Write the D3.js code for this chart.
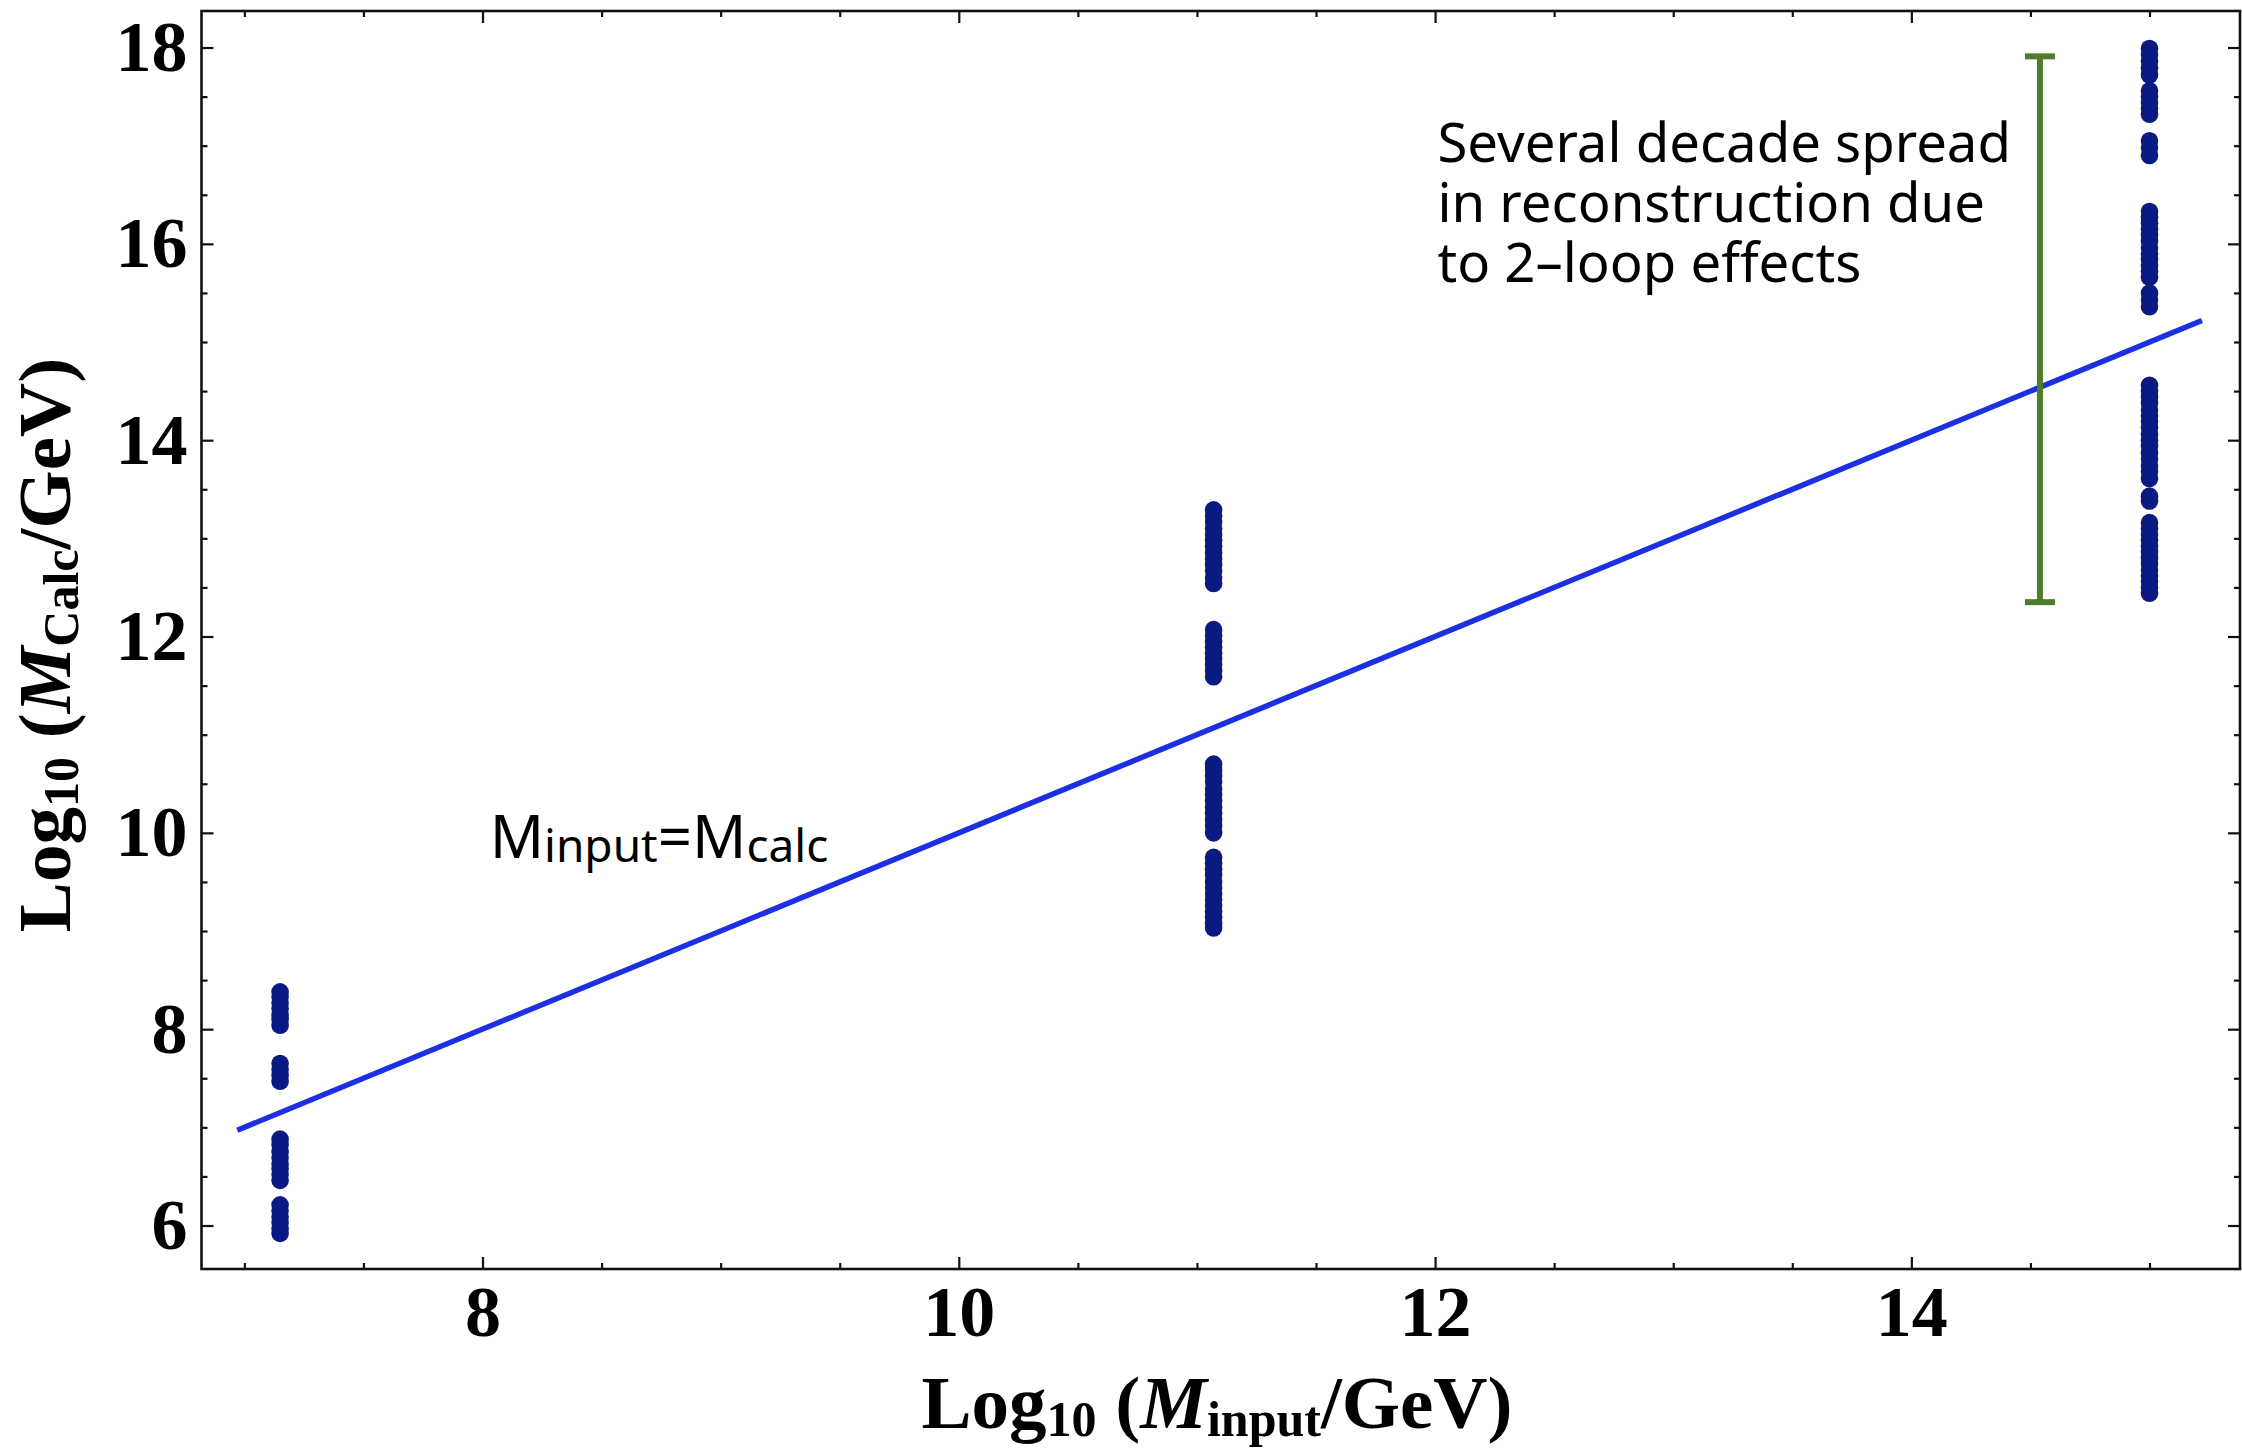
<!DOCTYPE html>
<html>
<head>
<meta charset="utf-8">
<script src="https://cdn.jsdelivr.net/npm/d3@7"></script>
<style>
  body { margin: 0; background: #fff; }
  svg { display: block; }
</style>
</head>
<body>
<div id="chart"></div>
<script>
// ---- data ----
var clusterX = [7.15, 11.07, 15.0];

var lowY = [8.38, 8.33, 8.27, 8.21, 8.15, 8.10, 8.04,
            7.65, 7.59, 7.53, 7.47,
            6.88, 6.82, 6.75, 6.69, 6.63, 6.58, 6.52, 6.46,
            6.21, 6.15, 6.09, 6.03, 5.97, 5.92];

var midY = [13.29, 13.23, 13.17, 13.10, 13.04, 12.98, 12.92, 12.85, 12.79, 12.73, 12.67, 12.60, 12.54,
            12.07, 12.01, 11.95, 11.89, 11.83, 11.77, 11.71, 11.65, 11.59,
            10.70, 10.64, 10.58, 10.52, 10.45, 10.39, 10.33, 10.26, 10.20, 10.13, 10.07, 10.00,
            9.75, 9.69, 9.63, 9.57, 9.50, 9.44, 9.38, 9.32, 9.26, 9.20, 9.14, 9.08, 9.03];

var highY = [17.99, 17.93, 17.86, 17.79, 17.72,
             17.56, 17.50, 17.44, 17.38, 17.32,
             17.05, 16.98, 16.90,
             16.33, 16.27, 16.21, 16.15, 16.09, 16.03, 15.96, 15.90, 15.84, 15.78, 15.72, 15.66,
             15.50, 15.43, 15.36,
             14.56, 14.50, 14.44, 14.38, 14.31, 14.25, 14.19, 14.13, 14.06, 14.00, 13.94, 13.87, 13.81, 13.74, 13.68, 13.61,
             13.43, 13.38,
             13.16, 13.10, 13.04, 12.98, 12.92, 12.86, 12.80, 12.74, 12.68, 12.62, 12.56, 12.50, 12.44];

var diagX = [6.97, 15.22];          // M_input = M_calc line
var xTicks = [8, 10, 12, 14];
var yTicks = [6, 8, 10, 12, 14, 16, 18];
var spreadX = 14.54;                 // green bar
var spreadY = [12.35, 17.91];
var noteLines = ["Several decade spread", "in reconstruction due", "to 2\u2013loop effects"];

// ---------------------------------------------------------
var W = 2242, H = 1449;
var pLeft = 201.5, pRight = 2240, pTop = 11, pBottom = 1269;

var svg = d3.select("#chart").append("svg")
    .attr("width", W)
    .attr("height", H);

var x = d3.scaleLinear().domain([6.82, 15.38]).range([pLeft, pRight]);
var y = d3.scaleLinear().domain([5.557, 18.372]).range([pBottom, pTop]);

var minorX = d3.range(7, 15.5, 0.5).filter(function(d) { return xTicks.indexOf(d) < 0; });
var minorY = d3.range(6, 18.5, 0.5).filter(function(d) { return yTicks.indexOf(d) < 0; });

var serif = "'Liberation Serif', 'Times New Roman', serif";

// axes (ticks point inward, like Mathematica frames)
function frameAxis(axisFn, scale, ticks, size, tr, labels) {
    var g = svg.append("g").attr("transform", tr)
        .call(axisFn(scale).tickValues(ticks).tickSize(size).tickPadding(labels ? 16 : 0)
            .tickFormat(labels ? d3.format("d") : ""));
    g.select(".domain").remove();
    g.selectAll(".tick line").attr("stroke", "#111").attr("stroke-width", 2.2);
    g.selectAll("text").attr("font-family", serif).attr("font-weight", "bold")
        .attr("font-size", 72).attr("fill", "#000");
    return g;
}

frameAxis(d3.axisBottom, x, xTicks, -12, "translate(0," + pBottom + ")", true);
frameAxis(d3.axisBottom, x, minorX, -6, "translate(0," + pBottom + ")", false);
frameAxis(d3.axisTop, x, xTicks, -12, "translate(0," + pTop + ")", false);
frameAxis(d3.axisTop, x, minorX, -6, "translate(0," + pTop + ")", false);
var yl = frameAxis(d3.axisLeft, y, yTicks, -12, "translate(" + pLeft + ",0)", true);
yl.selectAll("text").attr("x", -14);
frameAxis(d3.axisLeft, y, minorY, -6, "translate(" + pLeft + ",0)", false);
frameAxis(d3.axisRight, y, yTicks, -12, "translate(" + pRight + ",0)", false);
frameAxis(d3.axisRight, y, minorY, -6, "translate(" + pRight + ",0)", false);

svg.append("rect")
    .attr("x", pLeft).attr("y", pTop)
    .attr("width", pRight - pLeft).attr("height", pBottom - pTop)
    .attr("fill", "none").attr("stroke", "#111").attr("stroke-width", 2.6);

// data points
var pts = [];
lowY.forEach(function(v) { pts.push([clusterX[0], v]); });
midY.forEach(function(v) { pts.push([clusterX[1], v]); });
highY.forEach(function(v) { pts.push([clusterX[2], v]); });

svg.append("g").selectAll("circle")
    .data(pts)
    .enter().append("circle")
    .attr("cx", function(d) { return x(d[0]); })
    .attr("cy", function(d) { return y(d[1]); })
    .attr("r", 8.8)
    .attr("fill", "#0b1a82");

// y = x line
var line = d3.line()
    .x(function(d) { return x(d); })
    .y(function(d) { return y(d); });

svg.append("path")
    .datum(diagX)
    .attr("d", line)
    .attr("fill", "none")
    .attr("stroke", "#1b2fe3")
    .attr("stroke-width", 5.5);

// green spread bar
var green = "#4f7b2a";
svg.append("line")
    .attr("x1", x(spreadX)).attr("x2", x(spreadX))
    .attr("y1", y(spreadY[0])).attr("y2", y(spreadY[1]))
    .attr("stroke", green).attr("stroke-width", 6);
svg.selectAll(".cap")
    .data(spreadY)
    .enter().append("line")
    .attr("class", "cap")
    .attr("x1", x(spreadX) - 15).attr("x2", x(spreadX) + 15)
    .attr("y1", function(d) { return y(d); })
    .attr("y2", function(d) { return y(d); })
    .attr("stroke", green).attr("stroke-width", 6);

// annotation text
var sans = "'Noto Sans', 'DejaVu Sans', sans-serif";
svg.append("g").selectAll("text")
    .data(noteLines)
    .enter().append("text")
    .attr("x", x(12.01))
    .attr("y", function(d, i) { return y(16.83) + i * 60; })
    .attr("font-family", sans)
    .attr("font-size", 54.5)
    .attr("fill", "#000")
    .text(function(d) { return d; });

var eq = svg.append("text")
    .attr("x", x(8.03))
    .attr("y", y(9.74))
    .attr("font-family", sans)
    .attr("font-size", 60)
    .attr("fill", "#000");
eq.append("tspan").text("M");
eq.append("tspan").attr("font-size", 46).attr("dy", 4).text("input");
eq.append("tspan").attr("dy", -4).text("=M");
eq.append("tspan").attr("font-size", 46).attr("dy", 4).text("calc");

// axis titles
var xt = svg.append("text")
    .attr("x", 1217)
    .attr("y", 1428)
    .attr("text-anchor", "middle")
    .attr("font-family", serif)
    .attr("font-weight", "bold")
    .attr("font-size", 75)
    .attr("fill", "#000");
xt.append("tspan").text("Log");
xt.append("tspan").attr("font-size", 50).attr("dy", 8).text("10");
xt.append("tspan").attr("dy", -8).text(" (");
xt.append("tspan").attr("font-style", "italic").text("M");
xt.append("tspan").attr("font-size", 50).attr("dy", 8).text("input");
xt.append("tspan").attr("dy", -8).text("/GeV)");

var yt = svg.append("text")
    .attr("transform", "translate(70,645) rotate(-90)")
    .attr("text-anchor", "middle")
    .attr("font-family", serif)
    .attr("font-weight", "bold")
    .attr("font-size", 75)
    .attr("fill", "#000");
yt.append("tspan").text("Log");
yt.append("tspan").attr("font-size", 50).attr("dy", 8).text("10");
yt.append("tspan").attr("dy", -8).text(" (");
yt.append("tspan").attr("font-style", "italic").text("M");
yt.append("tspan").attr("font-size", 50).attr("dy", 8).text("Calc");
yt.append("tspan").attr("dy", -8).text("/GeV)");
</script>
</body>
</html>
